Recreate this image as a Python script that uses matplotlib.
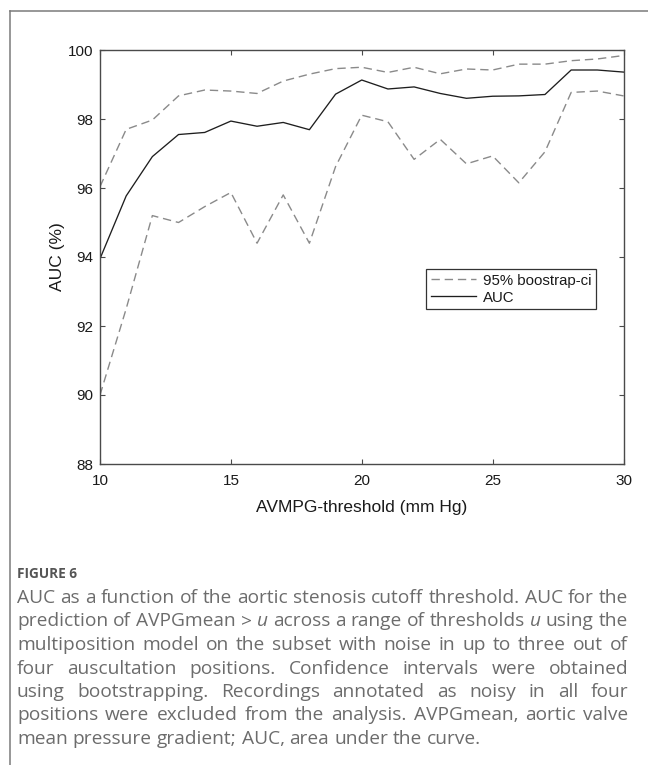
import numpy as np
import matplotlib
matplotlib.use("Agg")
import matplotlib.pyplot as plt
from matplotlib.lines import Line2D

# --- Data ---
threshold = np.arange(10, 31)
auc = [93.95, 95.77, 96.91, 97.55, 97.61, 97.94, 97.79, 97.90, 97.69, 98.72,
       99.13, 98.87, 98.93, 98.74, 98.60, 98.66, 98.67, 98.71, 99.42, 99.42,
       99.36]
ci_upper = [96.04, 97.70, 97.97, 98.67, 98.84, 98.81, 98.74, 99.10, 99.30, 99.46,
            99.50, 99.35, 99.50, 99.31, 99.45, 99.42, 99.59, 99.59, 99.69, 99.74,
            99.84]
ci_lower = [90.00, 92.50, 95.20, 95.00, 95.46, 95.87, 94.40, 95.80, 94.40, 96.62,
            98.11, 97.92, 96.83, 97.41, 96.70, 96.93, 96.15, 97.05, 98.77, 98.81,
            98.67]

xticks = [10, 15, 20, 25, 30]
yticks = [88, 90, 92, 94, 96, 98, 100]

caption_title = "FIGURE 6"
# words starting with * are italic; the last line is not justified
caption_lines = [
    "AUC as a function of the aortic stenosis cutoff threshold. AUC for the",
    "prediction of AVPGmean > *u across a range of thresholds *u using the",
    "multiposition model on the subset with noise in up to three out of",
    "four auscultation positions. Confidence intervals were obtained",
    "using bootstrapping. Recordings annotated as noisy in all four",
    "positions were excluded from the analysis. AVPGmean, aortic valve",
    "mean pressure gradient; AUC, area under the curve.",
]

# --- Figure ---
W, H = 648, 765
DPI = 100
fig = plt.figure(figsize=(W / DPI, H / DPI), dpi=DPI)
plt.rcParams['font.family'] = ['Liberation Sans', 'DejaVu Sans']

ax = fig.add_axes([100 / W, 1 - 464 / H, 523.5 / W, 414 / H])

ci_color = '#8a8a8a'
line_color = '#1e1e1e'
ax_color = '#4a4a4a'

ax.plot(threshold, ci_upper, color=ci_color, lw=1.0, dashes=(6, 3.5),
        label='95% boostrap-ci')
ax.plot(threshold, auc, color=line_color, lw=0.95, label='AUC')
ax.plot(threshold, ci_lower, color=ci_color, lw=1.0, dashes=(6, 3.5))

ax.set_xlim(10, 30)
ax.set_ylim(88, 100)
ax.set_xticks(xticks)
ax.set_yticks(yticks)
ax.tick_params(direction='in', length=3.5, width=0.8, colors=ax_color,
               labelcolor='#1a1a1a', labelsize=11, top=True, right=True)
ax.tick_params(axis='y', pad=5)
ax.tick_params(axis='x', pad=7)
for sp in ax.spines.values():
    sp.set_color(ax_color)
    sp.set_linewidth(1.0)

ax.set_xlabel('AVMPG-threshold (mm Hg)', fontsize=12.5, color='#1a1a1a', labelpad=9)
ax.set_ylabel('AUC (%)', fontsize=12.5, color='#1a1a1a', labelpad=1.5)

leg = ax.legend(loc='upper right', bbox_to_anchor=(0.9475, 0.471),
                borderaxespad=0, fancybox=False, fontsize=10.8,
                handlelength=3.0, handletextpad=0.5, labelspacing=0.2,
                borderpad=0.3, framealpha=1)
leg.get_frame().set_edgecolor('#333333')
leg.get_frame().set_linewidth(0.9)
for t in leg.get_texts():
    t.set_color('#1a1a1a')

# --- Frame around the figure panel ---
fx, fy = 9.5, 10.5
fig.add_artist(Line2D([fx / W, fx / W], [1 - fy / H, 0], color='#7a7a7a', lw=1.1))
fig.add_artist(Line2D([fx / W, 1], [1 - fy / H, 1 - fy / H], color='#7a7a7a', lw=1.1))

# --- Caption ---
cap_font = ['Open Sans', 'DejaVu Sans']
cap_color = '#6c6c6c'
left_px, right_px = 17, 628
fig.text(left_px / W, 1 - 577.5 / H, caption_title, fontsize=9.8, fontweight='bold',
         color='#555555', family=cap_font, va='baseline', ha='left')

renderer = fig.canvas.get_renderer()


def make_words(line, y, size):
    out = []
    for w in line.split(' '):
        italic = w.startswith('*')
        out.append(fig.text(0, y, w.lstrip('*'), fontsize=size, color=cap_color,
                            family=cap_font, style='italic' if italic else 'normal',
                            va='baseline', ha='left'))
    return out


def space_width(size):
    a = fig.text(0, 0, 'a a', fontsize=size, family=cap_font)
    b = fig.text(0, 0, 'aa', fontsize=size, family=cap_font)
    s = a.get_window_extent(renderer).width - b.get_window_extent(renderer).width
    a.remove()
    b.remove()
    return s


# pick a size so the tightest justified line fits with near-normal spacing
test = 12.0
sw = space_width(test)
nat = []
for line in caption_lines[:-1]:
    ws = make_words(line, 0, test)
    nat.append(sum(t.get_window_extent(renderer).width for t in ws) + sw * (len(ws) - 1))
    for t in ws:
        t.remove()
cap_size = test * (right_px - left_px - 2) / max(nat)

base0, step = 603, 23.5
gap_last = space_width(cap_size)
for i, line in enumerate(caption_lines):
    y = 1 - (base0 + i * step) / H
    texts = make_words(line, y, cap_size)
    widths = [t.get_window_extent(renderer).width for t in texts]
    if i < len(caption_lines) - 1:
        gap = (right_px - left_px - sum(widths)) / (len(texts) - 1)
    else:
        gap = gap_last
    x = left_px
    for t, w in zip(texts, widths):
        t.set_x(x / W)
        x += w + gap

fig.savefig('out.png', dpi=DPI)
